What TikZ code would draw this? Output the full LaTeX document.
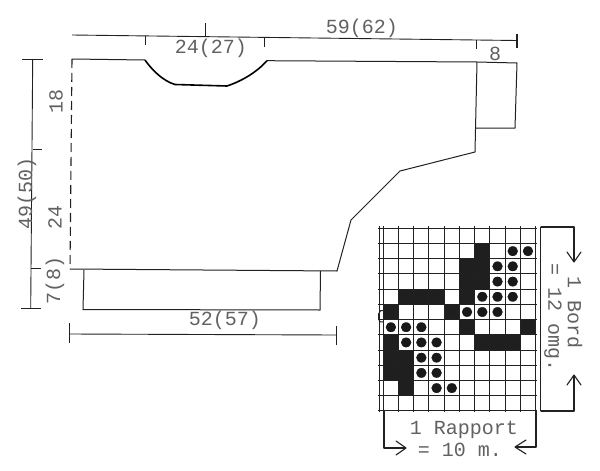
\documentclass[tikz,border=0pt]{standalone}
\usepackage{fontspec}
\setmainfont{Liberation Mono}
\definecolor{ink}{gray}{0.13}
\definecolor{lbl}{gray}{0.38}
\tikzset{
  x=1pt,y=-1pt,
  outline/.style={draw=ink,line width=1pt},
  dimline/.style={draw=ink,line width=0.9pt},
  neck/.style={draw=black,line width=1.6pt},
  lab/.style={text=lbl,font=\fontsize{20}{20}\selectfont,inner sep=0pt},
  gridln/.style={draw=ink,line width=1pt},
  solidcell/.style={fill=black!88,draw=none},
  dotmark/.style={fill=black!90,draw=white,line width=1.2pt},
  vee/.style={draw=ink,line width=1.1pt,line cap=round,line join=round}
}
\begin{document}
\begin{tikzpicture}
\useasboundingbox (0,0) rectangle (600,471);
\fill[white] (0,0) rectangle (600,471);
% body
\draw[outline] (72,59) -- (145,60);
\draw[neck] (145,60) .. controls (152,70) and (163,81) .. (175,84.5) -- (227,86) .. controls (242,81) and (257,72) .. (267,60.7);
\draw[outline] (267,60.7) -- (477,62) -- (517,63) -- (515,128) -- (475.5,128);
\draw[outline] (477,62) -- (475,152) -- (400,171) -- (351,220) -- (337,271) -- (70,269);
\draw[outline,dash pattern=on 9pt off 5pt,line width=1.1pt] (72,59) -- (70,269);
\draw[outline] (84,270) -- (83,309.5) -- (320,310) -- (320.5,271);
% top dimension
\draw[dimline] (72,35) -- (517,40.5);
\draw[dimline] (145,35.5) -- (145,45);
\draw[dimline] (205,23) -- (205,36.5);
\draw[dimline] (264,37) -- (264,47);
\draw[dimline] (476,39.5) -- (476,49);
\draw[dimline,line width=1.2pt] (517,34) -- (517,48);
\node[lab] (wneck) at (211,48) {24(27)};
\node[lab] (wtop) at (362,28) {59(62)};
\node[lab] (wcuff) at (495,54) {8};
% bottom dimension
\draw[dimline] (69,334) -- (336,335);
\draw[dimline] (69,323) -- (69,343);
\draw[dimline] (336,326) -- (336,345);
\node[lab] (wbot) at (225,320) {52(57)};
% left dimension
\draw[dimline] (32.7,59) -- (30.7,308);
\draw[dimline] (22,59) -- (43,59);
\draw[dimline] (33,149) -- (42,149);
\draw[dimline] (31,268) -- (41,268);
\draw[dimline] (21,308) -- (41,308);
\node[lab,rotate=90] (h18) at (56,101) {18};
\node[lab,rotate=90] (h24) at (55,217) {24};
\node[lab,rotate=90] (h7) at (55,280) {7(8)};
\node[lab,rotate=90] (h49) at (27,193) {49(50)};
% chart
\def\cx#1{383.3+15.23*#1}
\def\cy#1{228.3+15.22*#1}
\foreach \c/\r in {6/1,5/2,6/2,5/3,6/3,1/4,2/4,3/4,5/4,0/5,4/5,5/6,9/6,0/7,6/7,7/7,8/7,0/8,1/8,0/9,1/9,1/10}
  \fill[solidcell] ({\cx{\c}},{\cy{\r}}) rectangle ({\cx{\c}+15.23},{\cy{\r}+15.22});
\foreach \i in {0,...,10}
  \draw[gridln] ({\cx{\i}},226) -- ({\cx{\i}},412);
\foreach \j in {0,...,12}
  \draw[gridln] (378,{\cy{\j}}) -- (536.5,{\cy{\j}});
\draw[gridln] (379.3,226) -- (379.3,412);
\draw[gridln,line width=1.4pt] (540.7,227) -- (540.7,411);
\draw[outline] (383,322) arc (70:290:3.5 and 6);
\foreach \c/\r in {8/1,9/1,7/2,8/2,7/3,8/3,6/4,7/4,8/4,5/5,6/5,7/5,0/6,1/6,2/6,1/7,2/7,3/7,2/8,3/8,2/9,3/9,3/10,4/10}
  \path[dotmark] ({\cx{\c}+7.6},{\cy{\r}+7.6}) ellipse [x radius=6,y radius=5.6];
% chart arrows
\draw[vee] (541,227) -- (574,227) -- (574,261);
\draw[vee] (567,252) -- (574,262) -- (581,252);
\draw[vee] (541,411) -- (574,411) -- (574,376);
\draw[vee] (567,385) -- (574,375) -- (581,385);
\draw[vee] (384,411) -- (384,448) -- (405,448);
\draw[vee] (396,441) -- (406,448) -- (396,455);
\draw[vee] (536,411) -- (536,447) -- (516,447);
\draw[vee] (526,440) -- (515,447) -- (526,454);
\node[lab] (rap) at (464,430) {1 Rapport};
\node[lab] (rapb) at (460,450) {= 10 m.};
\node[lab,rotate=-90] (bord) at (575,313) {1 Bord};
\node[lab,rotate=-90] (bordb) at (553,318) {= 12 omg.};
\end{tikzpicture}
\end{document}
